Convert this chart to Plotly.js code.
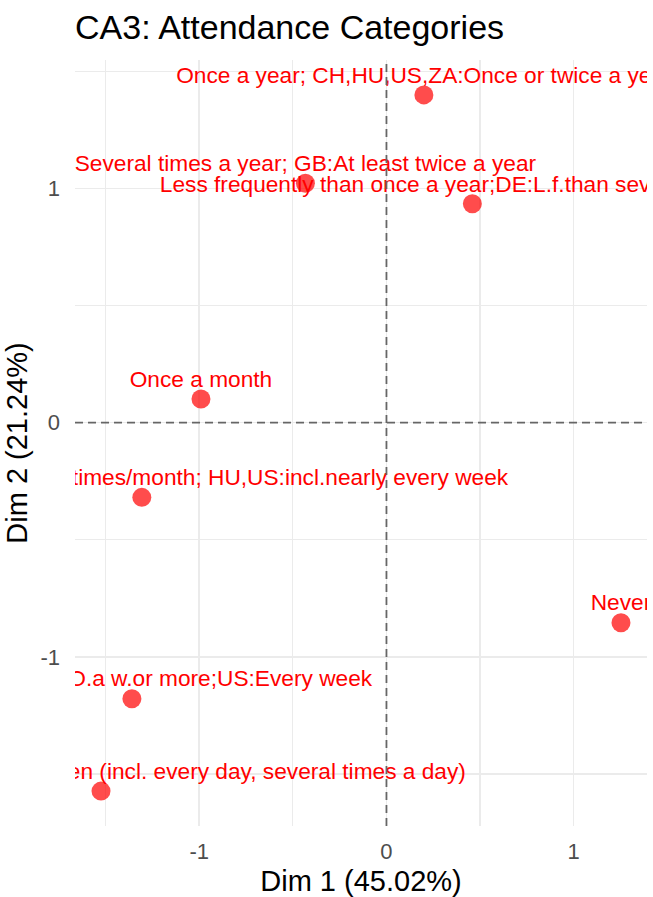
<!DOCTYPE html>
<html>
<head>
<meta charset="utf-8">
<script src="https://cdn.plot.ly/plotly-3.0.1.min.js"></script>
<style>html,body{margin:0;padding:0;background:#fff;}#chart{width:653px;height:897px;}</style>
</head>
<body>
<div id="chart"></div>
<script>
// Attendance categories (CA3 column coordinates)
const categories = [
  "Once a year; CH,HU,US,ZA:Once or twice a year",
  "Several times a year; GB:At least twice a year",
  "Less frequently than once a year;DE:L.f.than sev. times a year",
  "Once a month",
  "2 or 3 times a month; DE:2-3 times/month; HU,US:incl.nearly every week",
  "Never",
  "Once a week;DK:O.a w.or more;US:Every week",
  "Several times a week or more often (incl. every day, several times a day)"
];
const dim1 = [0.200, -0.433, 0.459, -0.991, -1.307, 1.253, -1.360, -1.525];
const dim2 = [1.399, 1.022, 0.934, 0.101, -0.319, -0.854, -1.179, -1.573];

const xTickVals = [-1, 0, 1];
const yTickVals = [-1, 0, 1];

const FONT = '"Liberation Sans", Arial, sans-serif';

const traces = [
  {
    x: dim1, y: dim2, type: 'scatter', mode: 'markers',
    marker: {size: 19, color: 'rgba(255,0,0,0.7)'},
    cliponaxis: true, hoverinfo: 'skip', showlegend: false
  },
  {
    x: dim1, y: dim2, text: categories, type: 'scatter', mode: 'markers+text',
    marker: {size: 9, color: 'rgba(0,0,0,0)'},
    textposition: 'top center',
    textfont: {family: FONT, size: 22.7, color: '#FF0000'},
    cliponaxis: true, hoverinfo: 'skip', showlegend: false
  }
];

const axisCommon = {
  showline: false, zeroline: false, ticks: '',
  gridcolor: '#EBEBEB', gridwidth: 1.6,
  tickfont: {family: FONT, size: 22, color: '#4D4D4D'},
  minor: {dtick: 0.5, showgrid: true, gridcolor: '#EBEBEB', gridwidth: 1.1}
};

const layout = {
  width: 653, height: 897,
  margin: {l: 75, r: 6, t: 60, b: 71},
  paper_bgcolor: '#FFFFFF', plot_bgcolor: '#FFFFFF',
  font: {family: FONT},
  title: {
    text: 'CA3: Attendance Categories',
    font: {family: FONT, size: 34, color: '#000000'},
    xref: 'container', x: 75/653, xanchor: 'left',
    yref: 'container', y: 1 - 27/897, yanchor: 'middle'
  },
  xaxis: Object.assign({}, axisCommon, {
    range: [-1.664, 1.392],
    tickvals: xTickVals, ticktext: xTickVals.map(String),
    ticklabelstandoff: 10,
    title: {text: 'Dim 1 (45.02%)', font: {family: FONT, size: 29, color: '#000000'}, standoff: 7}
  }),
  yaxis: Object.assign({}, axisCommon, {
    range: [-1.722, 1.548],
    tickvals: yTickVals, ticktext: yTickVals.map(String),
    ticklabelstandoff: 14,
    title: {text: 'Dim 2 (21.24%)', font: {family: FONT, size: 29, color: '#000000'}, standoff: 4}
  }),
  shapes: [
    {type: 'line', xref: 'x', yref: 'paper', x0: 0, x1: 0, y0: 0, y1: 1, layer: 'above',
     line: {color: '#666666', width: 1.8, dash: '8px,5px'}},
    {type: 'line', xref: 'paper', yref: 'y', x0: 0, x1: 1, y0: 0, y1: 0, layer: 'above',
     line: {color: '#666666', width: 1.8, dash: '8px,5px'}}
  ]
};

Plotly.newPlot('chart', traces, layout, {displayModeBar: false, staticPlot: true});
</script>
</body>
</html>
